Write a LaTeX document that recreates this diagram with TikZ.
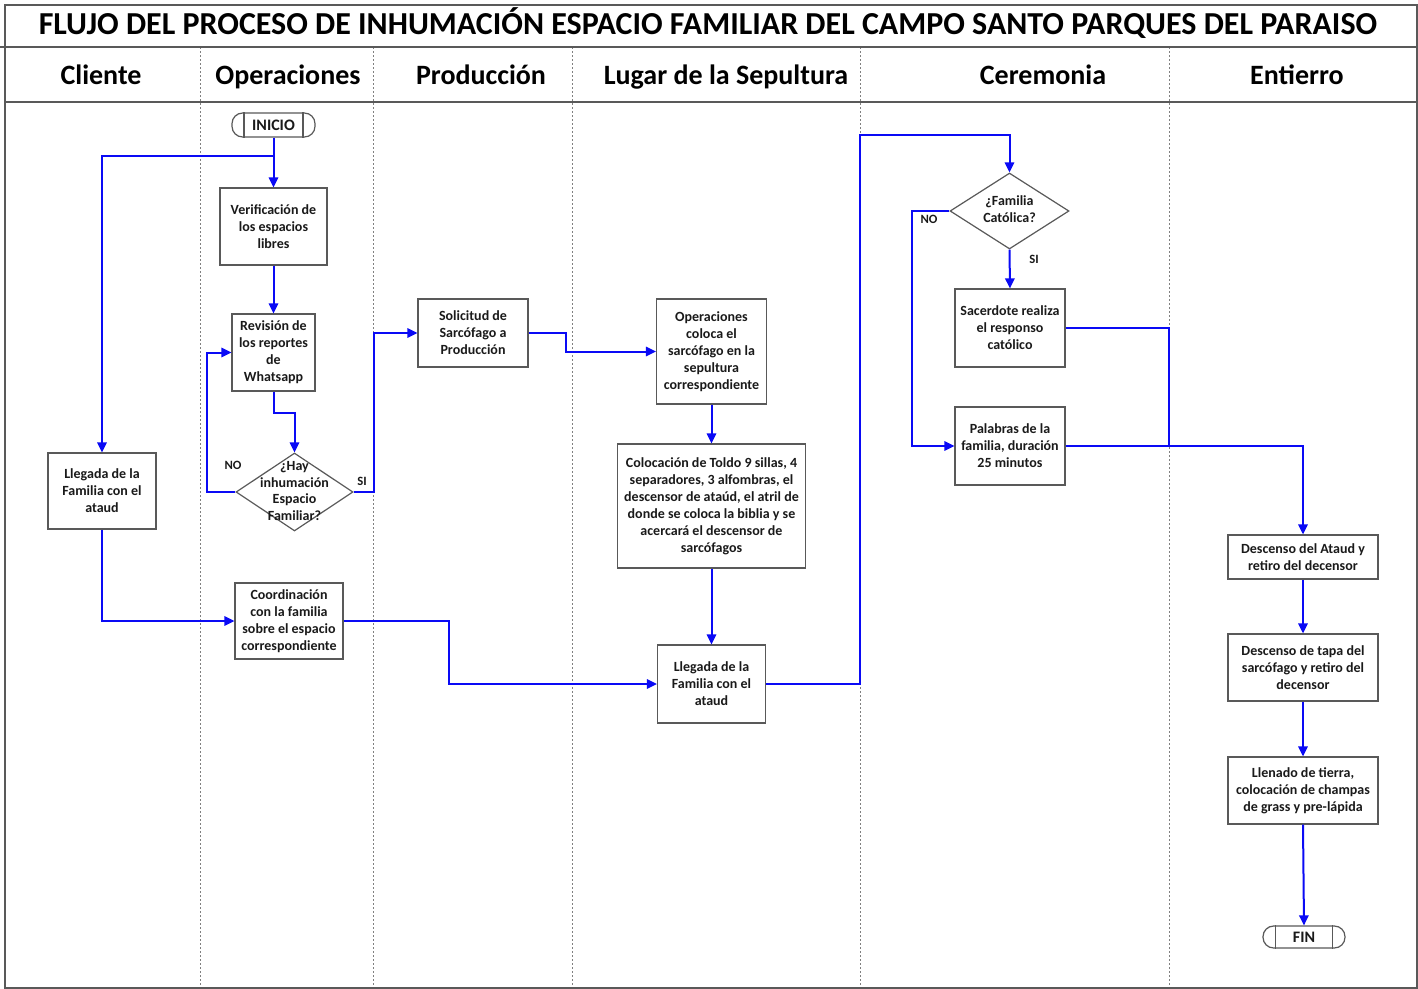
\documentclass[tikz,border=0pt]{standalone}
\usepackage{fontspec}
\setmainfont{Carlito}
\usetikzlibrary{arrows.meta,shapes.geometric}
\definecolor{flowblue}{HTML}{0A0AF5}
\definecolor{edgegray}{HTML}{595959}
\definecolor{inkdark}{HTML}{1A1A1A}
\tikzset{
  sz/.style 2 args={minimum width=#1*0.75pt, minimum height=#2*0.75pt},
  procbox/.style={draw=edgegray, line width=0.9pt, fill=white, inner sep=0pt,
    align=center, text=inkdark, font=\bfseries\fontsize{10.5}{12.75}\selectfont},
  decbox/.style={draw=edgegray, line width=0.9pt, fill=white, diamond, inner sep=0pt},
  dectext/.style={align=center, text=inkdark, inner sep=0pt,
    font=\bfseries\fontsize{10.5}{12.4}\selectfont},
  termbox/.style={draw=edgegray, line width=0.9pt, fill=white, rounded corners=8pt,
    inner sep=0pt, text=inkdark, font=\bfseries\fontsize{12}{13}\selectfont},
  flow/.style={draw=flowblue, line width=1.5pt, -{Triangle[length=7.5pt,width=7pt]}},
  flowplain/.style={draw=flowblue, line width=1.5pt},
  lane/.style={draw=gray, line width=0.6pt, dash pattern=on 1.5pt off 1.5pt},
  frame/.style={draw=edgegray, line width=1pt},
  headtxt/.style={text=black, font=\bfseries\fontsize{21}{24}\selectfont, inner sep=0pt, anchor=base},
  tagtxt/.style={text=inkdark, font=\bfseries\fontsize{9.5}{10}\selectfont, inner sep=0pt}
}
\begin{document}
\begin{tikzpicture}[x=0.75pt, y=-0.75pt]
\useasboundingbox (0,0) rectangle (1418,989);
\fill[white] (0,0) rectangle (1418,989);

% swimlane grid
\foreach \lx in {200,373,572,860,1169}
  \draw[lane] (\lx,47) -- (\lx,988);
\draw[frame] (5,5) rectangle (1417,988);
\draw[edgegray, line width=1.6pt] (0,47) -- (1418,47);
\draw[frame] (5,102) -- (1417,102);

% title and lane headers
\node[headtxt, font=\bfseries\fontsize{24}{26}\selectfont] (title) at (708,34)
  {FLUJO DEL PROCESO DE INHUMACIÓN ESPACIO FAMILIAR DEL CAMPO SANTO PARQUES DEL PARAISO};
\node[headtxt] (h1) at (101,84) {Cliente};
\node[headtxt] (h2) at (288,84) {Operaciones};
\node[headtxt] (h3) at (481,84) {Producción};
\node[headtxt] (h4) at (726,84) {Lugar de la Sepultura};
\node[headtxt] (h5) at (1043,84) {Ceremonia};
\node[headtxt] (h6) at (1297,84) {Entierro};

% terminators
\node[termbox, sz={83}{24}] (inicio) at (273.5,125) {INICIO};
\draw[edgegray, line width=0.9pt] ([xshift=9.5pt]inicio.north west) -- ([xshift=9.5pt]inicio.south west);
\draw[edgegray, line width=0.9pt] ([xshift=-9.5pt]inicio.north east) -- ([xshift=-9.5pt]inicio.south east);
\node[termbox, sz={82}{22}] (fin) at (1304,937) {FIN};
\draw[edgegray, line width=0.9pt] ([xshift=10pt]fin.north west) -- ([xshift=10pt]fin.south west);
\draw[edgegray, line width=0.9pt] ([xshift=-10pt]fin.north east) -- ([xshift=-10pt]fin.south east);

% process steps
\node[procbox, sz={107}{77}] (verif) at (273.5,226.5) {Verificación de\\los espacios\\libres};
\node[procbox, sz={83}{77}] (revis) at (273.5,352.5) {Revisión de\\los reportes\\de\\Whatsapp};
\node[procbox, sz={108}{76}] (llegcli) at (102,491) {Llegada de la\\Familia con el\\ataud};
\node[procbox, sz={108}{76}] (coord) at (289,621) {Coordinación\\con la familia\\sobre el espacio\\correspondiente};
\node[procbox, sz={110}{68}] (solic) at (473,333) {Solicitud de\\Sarcófago a\\Producción};
\node[procbox, sz={110}{105}] (opcol) at (711.5,351.5) {Operaciones\\coloca el\\sarcófago en la\\sepultura\\correspondiente};
\node[procbox, sz={188}{124}] (toldo) at (711.5,506) {Colocación de Toldo 9 sillas, 4\\separadores, 3 alfombras, el\\descensor de ataúd, el atril de\\donde se coloca la biblia y se\\acercará el descensor de\\sarcófagos};
\node[procbox, sz={108}{78}] (llegsep) at (711.5,684) {Llegada de la\\Familia con el\\ataud};
\node[procbox, sz={110}{78}] (sacer) at (1010,328) {Sacerdote realiza\\el responso\\católico};
\node[procbox, sz={110}{78}] (palab) at (1010,446) {Palabras de la\\familia, duración\\25 minutos};
\node[procbox, sz={150}{44}] (descat) at (1303,557) {Descenso del Ataud y\\retiro del decensor};
\node[procbox, sz={150}{67}] (destapa) at (1303,667.5) {Descenso de tapa del\\sarcófago y retiro del\\decensor};
\node[procbox, sz={150}{67}] (llenado) at (1303,790.5) {Llenado de tierra,\\colocación de champas\\de grass y pre-lápida};

% decisions
\node[decbox, sz={117}{78}] (hay) at (294.5,492) {};
\node[dectext] (haytxt) at (294.5,491) {¿Hay\\inhumación\\Espacio\\Familiar?};
\node[decbox, sz={119}{76}] (catol) at (1009.5,211) {};
\node[dectext] (catoltxt) at (1009.5,209) {¿Familia\\Católica?};

% branch labels
\node[tagtxt] (no1) at (233,465) {NO};
\node[tagtxt] (si1) at (362,481) {SI};
\node[tagtxt] (no2) at (929,219) {NO};
\node[tagtxt] (si2) at (1034,259) {SI};

% connectors
\coordinate (split) at (273.5,156);
\draw[flow] (inicio.south) -- (verif.north);
\draw[flow] (split) -| (llegcli.north);
\draw[flow] (verif.south) -- (revis.north);
\draw[flow] (revis.south) -- ++(0,21) -| (hay.north);
\draw[flow] (hay.west) -- ++(-28,0) |- (revis.west);
\draw[flow] (hay.east) -- ++(20,0) |- (solic.west);
\draw[flow] (solic.east) -- ++(37,0) |- (opcol.west);
\draw[flow] (opcol.south) -- (toldo.north);
\draw[flow] (toldo.south) -- (llegsep.north);
\draw[flow] (llegcli.south) |- (coord.west);
\draw[flow] (coord.east) -- ++(105,0) |- (llegsep.west);
\coordinate (upturn) at (860,135);
\draw[flow] (llegsep.east) -| (upturn) -| (catol.north);
\draw[flow] (catol.south) -- (sacer.north);
\draw[flow] (catol.west) -- ++(-37,0) |- (palab.west);
\coordinate (merge) at (1169,446);
\draw[flowplain] (sacer.east) -| (merge);
\draw[flow] (palab.east) -| (descat.north);
\draw[flow] (descat.south) -- (destapa.north);
\draw[flow] (destapa.south) -- (llenado.north);
\draw[flow] (llenado.south) -- (fin.north);
\end{tikzpicture}
\end{document}
